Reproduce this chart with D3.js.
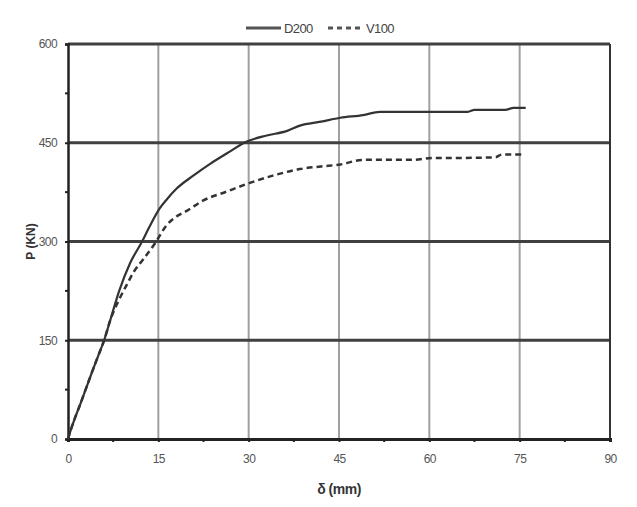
<!DOCTYPE html>
<html>
<head>
<meta charset="utf-8">
<script src="https://cdn.jsdelivr.net/npm/d3@7"></script>
<style>
  body { margin: 0; background: #fff; }
  .tick text { font-family: "Liberation Sans Narrow", "Liberation Sans", Arial, sans-serif; fill: #555; letter-spacing: -0.6px; }
</style>
</head>
<body>
<div id="chart"></div>
<script>
let width = 637;
let height = 507;
let margins = { top: 44, right: 27, bottom: 68, left: 68 };

// load-deflection readings
let deltaD200 = [0, 0.4, 1, 2, 3, 4, 5, 6, 7, 8.5, 10.3, 12.3, 13.5, 15.2, 16.5, 18, 20.8, 23.6, 26.4, 29.7, 33, 36.4, 38.5, 42, 45.2, 49, 51.8, 58, 66.4, 67.5, 72.6, 74, 76];
let loadD200 = [0, 12, 28, 52, 77, 102, 126, 150, 180, 225, 267, 300, 322, 350, 365, 380, 400, 418, 434, 452, 461, 468, 476, 482, 488, 492, 497, 497, 497, 500, 500, 503, 503];
let deltaV100 = [0, 0.4, 1, 2, 3, 4, 5, 6, 7, 8.5, 9.8, 11, 12.5, 14.5, 16.4, 18, 19.8, 22.4, 26.4, 30.2, 34, 38.5, 42, 45.2, 49, 57.3, 60.6, 66, 71, 72, 75.6];
let loadV100 = [0, 12, 28, 52, 77, 102, 126, 150, 180, 212, 235, 255, 273, 298, 325, 338, 347, 362, 376, 389, 400, 410, 414, 417, 424, 424, 427, 427, 428, 432, 432];

let xTicks = [0, 15, 30, 45, 60, 75, 90];
let yTicks = [0, 150, 300, 450, 600];
let xMinor = [7.5, 22.5, 37.5, 52.5, 67.5, 82.5];
let yMinor = [75, 225, 375, 525];
let seriesNames = ["D200", "V100"];

let w = width - margins.left - margins.right;
let h = height - margins.top - margins.bottom;

let svg = d3.select("#chart")
    .append("svg")
    .attr("width", width)
    .attr("height", height);

let g = svg.append("g")
    .attr("transform", "translate(" + margins.left + "," + margins.top + ")");

let x = d3.scaleLinear().domain([0, 90]).range([0, w]);
let y = d3.scaleLinear().domain([0, 600]).range([h, 0]);

// vertical gridlines (thin, light)
g.selectAll(".vgrid").data(xTicks.slice(1, -1))
    .enter().append("line")
    .attr("x1", d => x(d)).attr("x2", d => x(d))
    .attr("y1", 0).attr("y2", h)
    .style("stroke", "#a0a0a0").style("stroke-width", 2);

// horizontal gridlines (heavy)
g.selectAll(".hgrid").data(yTicks.slice(1))
    .enter().append("line")
    .attr("x1", 0).attr("x2", w)
    .attr("y1", d => y(d)).attr("y2", d => y(d))
    .style("stroke", "#404040").style("stroke-width", 3);

// right border
g.append("line")
    .attr("x1", w).attr("x2", w).attr("y1", 0).attr("y2", h)
    .style("stroke", "#333").style("stroke-width", 2);

// axes
let xAxis = g.append("g")
    .attr("transform", "translate(0," + h + ")")
    .call(d3.axisBottom(x).tickValues(xTicks).tickSize(3).tickPadding(12));
let yAxis = g.append("g")
    .call(d3.axisLeft(y).tickValues(yTicks).tickSize(3).tickPadding(8));

xAxis.select(".domain").style("stroke", "#222").style("stroke-width", 3);
yAxis.select(".domain").style("stroke", "#222").style("stroke-width", 2.5);
svg.selectAll(".tick line").style("stroke", "#222").style("stroke-width", 2);
svg.selectAll(".tick text").style("font-size", "12px");

// minor ticks
g.selectAll(".xminor").data(xMinor)
    .enter().append("line")
    .attr("x1", d => x(d)).attr("x2", d => x(d))
    .attr("y1", h).attr("y2", h + 3)
    .style("stroke", "#222").style("stroke-width", 2);
g.selectAll(".yminor").data(yMinor)
    .enter().append("line")
    .attr("x1", -3).attr("x2", 0)
    .attr("y1", d => y(d)).attr("y2", d => y(d))
    .style("stroke", "#222").style("stroke-width", 2);

// curves
let line = d3.line()
    .curve(d3.curveMonotoneX)
    .x(d => x(d[0]))
    .y(d => y(d[1]));

g.append("path")
    .datum(deltaD200.map((d, i) => [d, loadD200[i]]))
    .attr("d", line)
    .style("fill", "none")
    .style("stroke", "#333")
    .style("stroke-width", 2.2);

g.append("path")
    .datum(deltaV100.map((d, i) => [d, loadV100[i]]))
    .attr("d", line)
    .style("fill", "none")
    .style("stroke", "#333")
    .style("stroke-width", 2.5)
    .style("stroke-dasharray", "6,4");

// axis titles
svg.append("text")
    .attr("transform", "translate(35," + (margins.top + h / 2) + ") rotate(-90)")
    .attr("text-anchor", "middle")
    .style("font-family", "Liberation Sans, Arial, sans-serif")
    .style("font-size", "12px")
    .style("font-weight", "bold")
    .style("fill", "#333")
    .text("P (KN)");

svg.append("text")
    .attr("x", margins.left + x(45))
    .attr("y", 494)
    .attr("text-anchor", "middle")
    .style("font-family", "Liberation Sans Narrow, Liberation Sans, Arial, sans-serif")
    .style("font-size", "14px")
    .style("font-weight", "bold")
    .style("letter-spacing", "-0.5px")
    .style("fill", "#333")
    .text("δ (mm)");

// legend
let legend = svg.append("g").attr("transform", "translate(246,28)");
let items = legend.selectAll("g").data(seriesNames)
    .enter().append("g")
    .attr("transform", (d, i) => "translate(" + (i * 82) + ",0)");
items.append("line")
    .attr("x1", 0).attr("x2", 35).attr("y1", 0).attr("y2", 0)
    .style("stroke", "#555")
    .style("stroke-width", 3)
    .style("stroke-dasharray", (d, i) => i === 1 ? "5,4" : null);
items.append("text")
    .attr("x", 38).attr("dy", "0.35em")
    .style("font-family", "Liberation Sans Narrow, Liberation Sans, Arial, sans-serif")
    .style("font-size", "13px")
    .style("letter-spacing", "-0.6px")
    .style("fill", "#444")
    .text(d => d);
</script>
</body>
</html>
